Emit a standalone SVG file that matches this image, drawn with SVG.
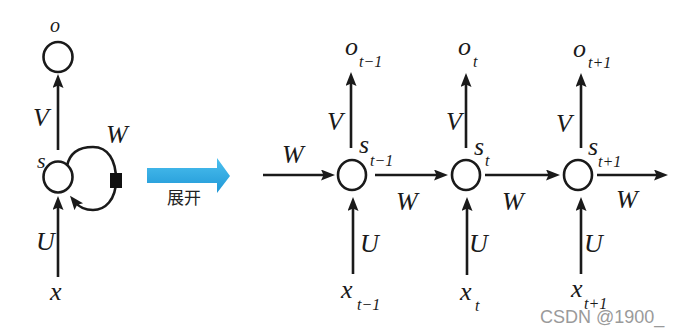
<svg xmlns="http://www.w3.org/2000/svg" width="682" height="334" viewBox="0 0 682 334">
<style>
.n{fill:none;stroke:#1a1a1a;stroke-width:2.6}
.c{fill:none;stroke:#1a1a1a;stroke-width:2.6}
.l{font-family:"Liberation Serif","Times New Roman",serif;font-style:italic;font-size:26px;fill:#1a1a1a}
.sub{font-family:"Liberation Serif","Times New Roman",serif;font-style:italic;font-size:16px;fill:#1a1a1a}
.cn{font-family:"Noto Sans CJK SC","Noto Sans",sans-serif;font-size:17px;fill:#222}
.wm{font-family:"Liberation Sans",Arial,sans-serif;font-size:18px;fill:#9a9a9a}
</style>
<defs>
<marker id="ah" markerUnits="userSpaceOnUse" markerWidth="16" markerHeight="12" refX="6" refY="5.5" orient="auto">
<path d="M0,0 L14,5.5 L0,11 L2.5,5.5 z" fill="#1a1a1a"/>
</marker>
<linearGradient id="bg" x1="0" y1="0" x2="0" y2="1">
<stop offset="0" stop-color="#4cc0ef"/>
<stop offset="1" stop-color="#1f97d6"/>
</linearGradient>
</defs>
<rect width="682" height="334" fill="#fff"/>

<g id="connectors">
<line class="c" x1="58" y1="150" x2="58" y2="82" marker-end="url(#ah)"/>
<line class="c" x1="58" y1="277" x2="58" y2="204" marker-end="url(#ah)"/>
<path class="c" d="M67,166 C70,151 82,147 93,147 C108,147 116,160 116,180 C116,200 105,210 93,210 C85,210 79,207 75,202" marker-end="url(#ah)"/>
<rect x="110" y="173" width="12" height="15" fill="#111"/>

<line class="c" x1="263" y1="175" x2="327" y2="175" marker-end="url(#ah)"/>
<line class="c" x1="375" y1="175" x2="440" y2="175" marker-end="url(#ah)"/>
<line class="c" x1="485" y1="175" x2="552" y2="175" marker-end="url(#ah)"/>
<line class="c" x1="597" y1="175" x2="660" y2="175" marker-end="url(#ah)"/>

<line class="c" x1="351" y1="148" x2="351" y2="80" marker-end="url(#ah)"/>
<line class="c" x1="353" y1="274" x2="353" y2="205" marker-end="url(#ah)"/>
<line class="c" x1="466" y1="148" x2="466" y2="81" marker-end="url(#ah)"/>
<line class="c" x1="467" y1="275" x2="467" y2="205" marker-end="url(#ah)"/>
<line class="c" x1="581" y1="148" x2="581" y2="81" marker-end="url(#ah)"/>
<line class="c" x1="581" y1="274" x2="581" y2="205" marker-end="url(#ah)"/>
</g>

<g id="fold-o">
<ellipse class="n" cx="58" cy="57" rx="14.5" ry="15"/>
<text class="l" x="50" y="32" style="font-size:20px">o</text>
</g>
<g id="fold-s">
<ellipse class="n" cx="58" cy="177" rx="14.5" ry="15.5"/>
<text class="l" x="37" y="168" style="font-size:22px">s</text>
</g>
<g id="fold-x">
<text class="l" x="50" y="300">x</text>
</g>
<g id="fold-labels">
<text class="l" x="33" y="126">V</text>
<text class="l" x="106" y="143">W</text>
<text class="l" x="36" y="250">U</text>
</g>

<g id="unfold-arrow">
<polygon points="147,168 217,168 217,158 230,176 217,193 217,183 147,183" fill="url(#bg)"/>
<text class="cn" x="184" y="204" text-anchor="middle">展开</text>
</g>

<g id="node-t-1">
<ellipse class="n" cx="352" cy="175" rx="14" ry="15"/>
<text class="l" x="345" y="55">o</text><text class="sub" x="359" y="67">t−1</text>
<text class="l" x="359" y="153">s</text><text class="sub" x="370" y="166">t−1</text>
<text class="l" x="341" y="298">x</text><text class="sub" x="357" y="310">t−1</text>
<text class="l" x="327" y="130">V</text>
<text class="l" x="282" y="163">W</text>
<text class="l" x="396" y="210">W</text>
<text class="l" x="360" y="252">U</text>
</g>

<g id="node-t">
<ellipse class="n" cx="466" cy="175" rx="14" ry="15"/>
<text class="l" x="458" y="55">o</text><text class="sub" x="473" y="67">t</text>
<text class="l" x="474" y="155">s</text><text class="sub" x="485" y="166">t</text>
<text class="l" x="460" y="300">x</text><text class="sub" x="475" y="311">t</text>
<text class="l" x="446" y="130">V</text>
<text class="l" x="502" y="210">W</text>
<text class="l" x="469" y="252">U</text>
</g>

<g id="node-t+1">
<ellipse class="n" cx="578" cy="175" rx="14" ry="15"/>
<text class="l" x="573" y="57">o</text><text class="sub" x="588" y="68">t+1</text>
<text class="l" x="588" y="155">s</text><text class="sub" x="598" y="167">t+1</text>
<text class="l" x="571" y="297">x</text><text class="sub" x="584" y="309">t+1</text>
<text class="l" x="556" y="132">V</text>
<text class="l" x="616" y="208">W</text>
<text class="l" x="584" y="252">U</text>
</g>

<text class="wm" x="540" y="323">CSDN @1900_</text>
</svg>
